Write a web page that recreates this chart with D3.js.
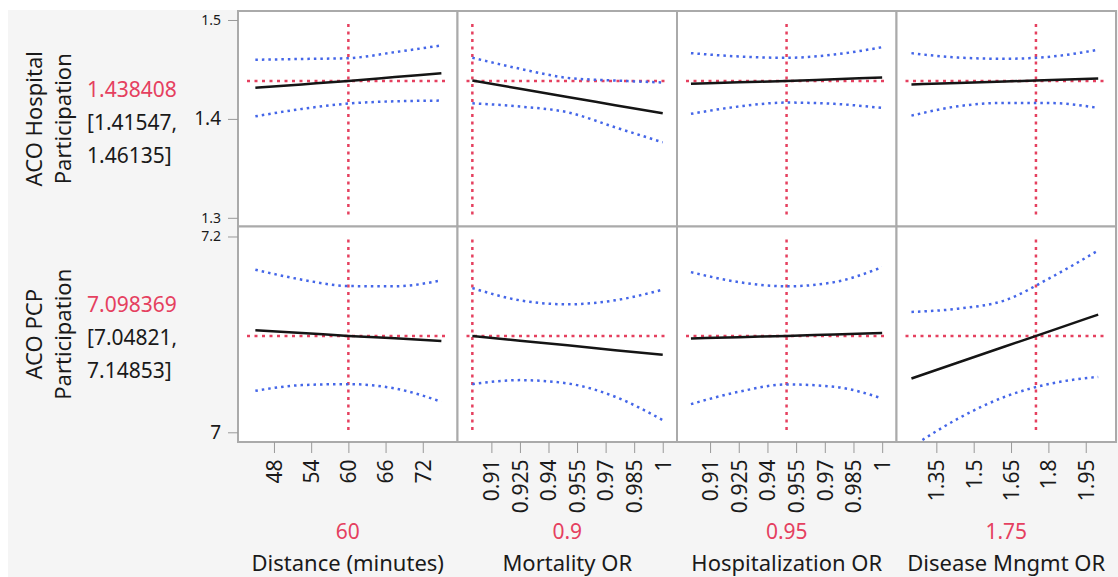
<!DOCTYPE html>
<html>
<head>
<meta charset="utf-8">
<script src="https://cdn.jsdelivr.net/npm/d3@7"></script>
<style>
body { margin: 0; background: #fff; }
text { font-family: "Noto Sans", "Open Sans", sans-serif; fill: #1a1a1a; }
</style>
</head>
<body>
<div id="chart"></div>
<script>
// factors (columns)
var factors = ["Distance (minutes)", "Mortality OR", "Hospitalization OR", "Disease Mngmt OR"];
var currentX = [60, 0.9, 0.95, 1.75];
var currentXText = ["60", "0.9", "0.95", "1.75"];
var xDomains = [[42.2, 77.6], [0.8922, 1.0075], [0.8927, 1.0075], [1.19, 2.0715]];
var xTicks = [
	[48, 54, 60, 66, 72],
	[0.91, 0.925, 0.94, 0.955, 0.97, 0.985, 1],
	[0.91, 0.925, 0.94, 0.955, 0.97, 0.985, 1],
	[1.35, 1.5, 1.65, 1.8, 1.95]
];
var xPts = [
	[45, 52.5, 60, 67.5, 75],
	[0.9, 0.925, 0.95, 0.975, 1],
	[0.9, 0.925, 0.95, 0.975, 1],
	[1.25, 1.4375, 1.625, 1.8125, 2]
];

// responses (rows)
var responses = [["ACO Hospital", "Participation"], ["ACO PCP", "Participation"]];
var predicted = [1.438408, 7.098369];
var predictedText = ["1.438408", "7.098369"];
var ciText = [["[1.41547,", "1.46135]"], ["[7.04821,", "7.14853]"]];
var yDomains = [[1.2912, 1.5091], [6.9901, 7.2102]];
var yTicks = [[1.3, 1.4, 1.5], [7, 7.2]];
var yMajor = [1.4, 7];

// prediction traces, one list per panel
var fitHosp = [
	[1.4314, 1.4349, 1.4384, 1.4423, 1.4462],
	[1.4388, 1.4304, 1.4221, 1.4139, 1.4057],
	[1.4355, 1.4370, 1.4384, 1.4401, 1.4418],
	[1.4348, 1.4363, 1.4378, 1.4393, 1.4408]
];
var upperHosp = [
	[1.4598, 1.4606, 1.4614, 1.4675, 1.4743],
	[1.4618, 1.4507, 1.4415, 1.4388, 1.4368],
	[1.4665, 1.4631, 1.4618, 1.4651, 1.4725],
	[1.4665, 1.4620, 1.4608, 1.4630, 1.4699]
];
var lowerHosp = [
	[1.4026, 1.4101, 1.4155, 1.4178, 1.4185],
	[1.4158, 1.4125, 1.4067, 1.3915, 1.3763],
	[1.4051, 1.4125, 1.4165, 1.4152, 1.4111],
	[1.4033, 1.4128, 1.4162, 1.4160, 1.4111]
];
var fitPCP = [
	[7.1042, 7.1015, 7.0984, 7.0960, 7.0933],
	[7.0984, 7.0936, 7.0888, 7.0839, 7.0791],
	[7.0958, 7.0972, 7.0984, 7.1000, 7.1015],
	[7.0550, 7.0713, 7.0876, 7.1039, 7.1202]
];
var upperPCP = [
	[7.1661, 7.1559, 7.1494, 7.1491, 7.1552],
	[7.1473, 7.1348, 7.1307, 7.1348, 7.1457],
	[7.1636, 7.1534, 7.1491, 7.1534, 7.1687],
	[7.1229, 7.1263, 7.1348, 7.1585, 7.1857]
];
var lowerPCP = [
	[7.0424, 7.0482, 7.0492, 7.0448, 7.0312],
	[7.0492, 7.0533, 7.0499, 7.0363, 7.0125],
	[7.0288, 7.0414, 7.0489, 7.0465, 7.0346],
	[6.9850, 7.0140, 7.0363, 7.0499, 7.0566]
];

var fits = [fitHosp, fitPCP], uppers = [upperHosp, upperPCP], lowers = [lowerHosp, lowerPCP];

var width = 1118, height = 577;
var left = 238, top0 = 11, panelW = 219.5, rowH = 215.5;
var red = "#e5405f", blue = "#4466e8";

var svg = d3.select('#chart').append('svg')
	.attr('width', width)
	.attr('height', height);

svg.append('rect')
	.attr('x', 8).attr('y', 10)
	.attr('width', width - 8).attr('height', height - 10)
	.attr('fill', '#f5f5f5');

var defs = svg.append('defs');

function xScale(c) {
	return d3.scaleLinear().domain(xDomains[c]).range([left + c * panelW, left + (c + 1) * panelW]);
}
function yScale(r) {
	return d3.scaleLinear().domain(yDomains[r]).range([top0 + (r + 1) * rowH, top0 + r * rowH]);
}

for (var r = 0; r < 2; r++) {
	var y = yScale(r);
	var rowTop = top0 + r * rowH, rowBot = rowTop + rowH;
	for (var c = 0; c < 4; c++) {
		var x = xScale(c);
		var x0 = left + c * panelW, x1 = x0 + panelW;
		var id = 'clip' + r + c;
		defs.append('clipPath').attr('id', id)
			.append('rect').attr('x', x0).attr('y', rowTop).attr('width', panelW).attr('height', rowH);

		svg.append('rect')
			.attr('x', x0).attr('y', rowTop)
			.attr('width', panelW).attr('height', rowH)
			.attr('fill', '#fff');

		var g = svg.append('g').attr('clip-path', 'url(#' + id + ')');

		// reference lines at the current settings
		g.append('line')
			.attr('x1', x(currentX[c])).attr('x2', x(currentX[c]))
			.attr('y1', rowTop + 13).attr('y2', rowBot - 10)
			.attr('stroke', red).attr('stroke-width', 2.5)
			.attr('stroke-dasharray', '3,4.5');
		g.append('line')
			.attr('x1', x0 + 9).attr('x2', x1 - 9)
			.attr('y1', y(predicted[r])).attr('y2', y(predicted[r]))
			.attr('stroke', red).attr('stroke-width', 2.5)
			.attr('stroke-dasharray', '3,4.5');

		var line = d3.line()
			.curve(d3.curveMonotoneX)
			.x(function(d) { return x(d[0]); })
			.y(function(d) { return y(d[1]); });

		var pts = xPts[c];
		[uppers[r][c], lowers[r][c]].forEach(function(vals) {
			g.append('path')
				.datum(pts.map(function(p, i) { return [p, vals[i]]; }))
				.attr('d', line)
				.attr('fill', 'none')
				.attr('stroke', blue)
				.attr('stroke-width', 2.5)
				.attr('stroke-dasharray', '2.5,4');
		});
		g.append('path')
			.datum(pts.map(function(p, i) { return [p, fits[r][c][i]]; }))
			.attr('d', line)
			.attr('fill', 'none')
			.attr('stroke', '#151515')
			.attr('stroke-width', 2.5);

		svg.append('rect')
			.attr('x', x0).attr('y', rowTop)
			.attr('width', panelW).attr('height', rowH)
			.attr('fill', 'none')
			.attr('stroke', '#aaa')
			.attr('stroke-width', 2);
	}

	// y axis
	var ya = svg.append('g')
		.attr('transform', 'translate(' + left + ',0)')
		.call(d3.axisLeft(y).tickValues(yTicks[r]).tickSize(10).tickPadding(7).tickFormat(String));
	ya.select('.domain').remove();
	ya.selectAll('line').attr('stroke', '#999');
	ya.selectAll('text')
		.style('font-size', function(d) { return yMajor.indexOf(d) >= 0 ? '19px' : '14px'; })
		.style('font-family', '"Noto Sans", sans-serif');

	// row title, rotated
	var cy = rowTop + rowH / 2;
	responses[r].forEach(function(t, i) {
		svg.append('text')
			.attr('transform', 'translate(' + (42 + i * 29) + ',' + cy + ') rotate(-90)')
			.attr('text-anchor', 'middle')
			.style('font-size', '22px')
			.text(t);
	});

	// predicted value and interval
	svg.append('text')
		.attr('x', 87).attr('y', cy - 22)
		.style('font-size', '21px')
		.style('fill', red)
		.text(predictedText[r]);
	ciText[r].forEach(function(t, i) {
		svg.append('text')
			.attr('x', 87).attr('y', cy + 11 + i * 33)
			.style('font-size', '21px')
			.text(t);
	});
}

// x axes
var axisY = top0 + 2 * rowH;
for (var c = 0; c < 4; c++) {
	var x = xScale(c);
	var cx = left + c * panelW + panelW / 2;
	var xa = svg.append('g')
		.attr('transform', 'translate(0,' + axisY + ')')
		.call(d3.axisBottom(x).tickValues(xTicks[c]).tickSize(11).tickFormat(String));
	xa.select('.domain').remove();
	xa.selectAll('line').attr('stroke', '#999');
	xa.selectAll('text')
		.attr('transform', 'rotate(-90)')
		.attr('x', -17.5)
		.attr('y', 0)
		.attr('dy', '0.35em')
		.style('text-anchor', 'end')
		.style('font-size', '21px')
		.style('font-family', '"Noto Sans", sans-serif');

	svg.append('text')
		.attr('x', cx).attr('y', 539)
		.attr('text-anchor', 'middle')
		.style('font-size', '21px')
		.style('fill', red)
		.text(currentXText[c]);
	svg.append('text')
		.attr('x', cx).attr('y', 571)
		.attr('text-anchor', 'middle')
		.style('font-size', '22px')
		.text(factors[c]);
}
</script>
</body>
</html>
